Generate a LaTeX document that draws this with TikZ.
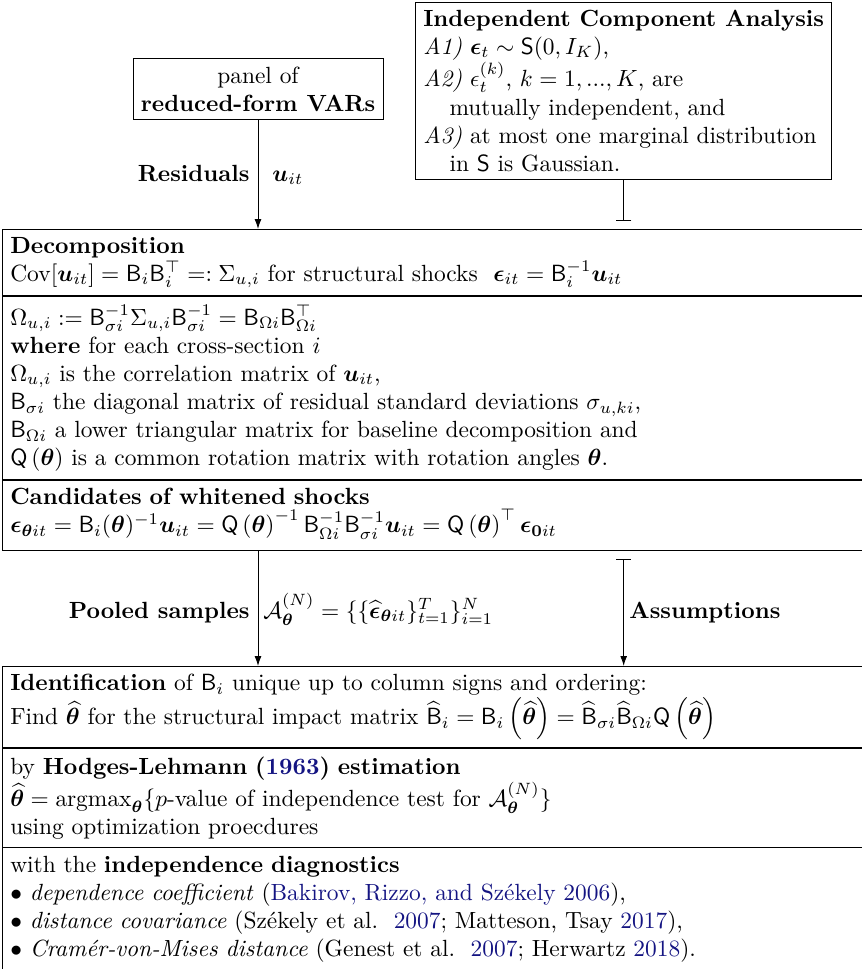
\documentclass[tikz,border=0pt]{standalone}
\usepackage{amsmath,amssymb,bm}
\usetikzlibrary{arrows.meta}
\definecolor{citeblue}{RGB}{20,20,130}
\newcommand{\cb}[1]{\textcolor{citeblue}{#1}}
\newcommand{\Bsf}{\mathsf{B}}
\newcommand{\Qsf}{\mathsf{Q}}
\newcommand{\bth}{\boldsymbol{\theta}}
\newcommand{\hth}{\widehat{\boldsymbol{\theta}}}
\newcommand{\bu}{\boldsymbol{u}}
\newcommand{\beps}{\boldsymbol{\epsilon}}
\begin{document}
\begin{tikzpicture}[x=0.427pt,y=-0.427pt,
  sec/.style={draw,anchor=north west,text width=400pt,align=left},
  plainbox/.style={draw},
  txt/.style={anchor=base west,inner sep=0pt},
  txtr/.style={anchor=base east,inner sep=0pt},
  arr/.style={-{Latex[length=4.2pt,width=2.9pt]}},
  barend/.style={-{Bar[width=6.5pt]}},
  bararr/.style={{Bar[width=6.5pt]}-{Latex[length=4.2pt,width=2.9pt]}}]
\useasboundingbox (0,0) rectangle (862,969);
% top boxes
\node[plainbox,anchor=south west,align=left] (ica) at (415,180) {\textbf{Independent Component Analysis}\\
\textit{A1)} $\beps_t \sim \mathsf{S}(0, I_K)$,\\
\textit{A2)} $\epsilon_t^{(k)}$, $k=1,...,K$, are\\
\hspace*{11.2pt}mutually independent, and\\
\textit{A3)} at most one marginal distribution\\
\hspace*{11.2pt}in $\mathsf{S}$ is Gaussian.};
\node[plainbox,align=center] (vars) at (258,89) {panel of\\\textbf{reduced-form VARs}};
% upper stack
\node[sec] (dec) at (2,229) {\textbf{Decomposition}\\
$\mathrm{Cov}[\bu_{it}] = \Bsf_i\Bsf_i^\top =: \Sigma_{u,i}$ for structural shocks \ $\beps_{it} = \Bsf_i^{-1}\bu_{it}$};
\node[sec] (omg) at (dec.south west) {$\Omega_{u,i} := \Bsf_{\sigma i}^{-1}\Sigma_{u,i}\Bsf_{\sigma i}^{-1} = \Bsf_{\Omega i}\Bsf_{\Omega i}^\top$\\
\textbf{where} for each cross-section $i$\\
$\Omega_{u,i}$ is the correlation matrix of $\bu_{it}$,\\
$\Bsf_{\sigma i}$ the diagonal matrix of residual standard deviations $\sigma_{u,ki}$,\\
$\Bsf_{\Omega i}$ a lower triangular matrix for baseline decomposition and\\
$\Qsf\left(\bth\right)$ is a common rotation matrix with rotation angles $\bth$.};
\node[sec] (cand) at (omg.south west) {\textbf{Candidates of whitened shocks}\\
$\beps_{\bth it} = \Bsf_i(\bth)^{-1}\bu_{it} = \Qsf\left(\bth\right)^{-1}\Bsf_{\Omega i}^{-1}\Bsf_{\sigma i}^{-1}\bu_{it} = \Qsf\left(\bth\right)^{\top}\beps_{\mathbf{0}it}$\rule[-4.2pt]{0pt}{0pt}};
% lower stack
\node[sec] (ident) at (2,666) {\textbf{Identification} of $\Bsf_i$ unique up to column signs and ordering:\\
Find $\hth$ for the structural impact matrix $\widehat{\Bsf}_i = \Bsf_i\left(\hth\right) = \widehat{\Bsf}_{\sigma i}\widehat{\Bsf}_{\Omega i}\Qsf\left(\hth\right)$};
\node[sec] (hodg) at (ident.south west) {by \textbf{Hodges-Lehmann (\cb{1963}) estimation}\\
$\hth = \mathrm{argmax}_{\bth}\{p$-value of independence test for $\mathcal{A}_{\bth}^{(N)}\}$\\
using optimization proecdures};
\node[sec,draw=none] (indep) at (hodg.south west) {with the \textbf{independence diagnostics}\\
$\bullet$ \textit{dependence coefficient} (\cb{Bakirov, Rizzo, and Székely 2006}),\\
$\bullet$ \textit{distance covariance} (Székely et al.\ \ \cb{2007}; Matteson, Tsay \cb{2017}),\\
$\bullet$ \textit{Cramér-von-Mises distance} (Genest et al.\ \ \cb{2007}; Herwartz \cb{2018}).};
\draw (indep.north west) -- (indep.north west |- 0,1000);
% connectors and labels
\draw[arr] (vars.south) -- (vars.south |- dec.north);
\node[txtr] (res) at (250,181) {\textbf{Residuals}};
\node[txt] (resu) at (272,181) {$\bu_{it}$};
\coordinate (icaend) at (ica.south |- 0,221);
\draw[barend] (ica.south) -- (icaend);
\draw[arr] (cand.south -| vars.south) -- (ident.north -| vars.south);
\coordinate (asstart) at ([yshift=-8*0.427pt]cand.south -| ica.south);
\draw[bararr] (asstart) -- (asstart |- ident.north);
\node[txtr] (pool) at (250,618) {\textbf{Pooled samples}};
\node[txt] (poolA) at (263,618) {$\mathcal{A}_{\bth}^{(N)} = \{\{\widehat{\beps}_{\bth it}\}_{t=1}^T\}_{i=1}^N$};
\node[txt] (assm) at (629,618) {\textbf{Assumptions}};
\end{tikzpicture}
\end{document}
